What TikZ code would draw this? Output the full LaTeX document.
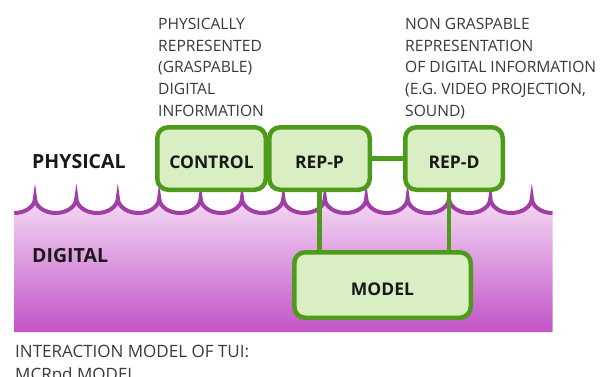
\documentclass[tikz,border=0pt]{standalone}
\usepackage{fontspec}
\setmainfont{Open Sans}
\definecolor{boxgreen}{RGB}{78,154,26}
\definecolor{boxfill}{RGB}{218,238,196}
\definecolor{wavepurple}{RGB}{160,62,165}
\definecolor{purtop}{RGB}{244,218,244}
\definecolor{purbot}{RGB}{194,84,200}
\definecolor{textgray}{RGB}{58,58,58}
\definecolor{textdark}{RGB}{25,25,25}
\tikzset{
  box/.style={draw=boxgreen, fill=boxfill, line width=4.5pt, rounded corners=11pt,
    inner sep=0pt, text height=20pt, text depth=0pt,
    font=\bfseries\fontsize{17.5}{17.5}\selectfont, text=textdark},
  conn/.style={draw=boxgreen, line width=4.5pt},
  note/.style={anchor=north west, inner sep=0pt, align=left, text=textgray,
    font=\fontsize{15.6}{21.7}\selectfont},
  zone/.style={anchor=base west, inner sep=0pt, text=textdark,
    font=\bfseries\fontsize{19.5}{19.5}\selectfont},
}
\newcommand{\wavepath}{(14.3,213) .. controls (25.73,213) and (35,206.28) .. (35,198)
  \foreach \k in {0,...,11}{
    .. controls ({35+\k*41.4},206.28) and ({35+\k*41.4+9.27},213) .. ({35+\k*41.4+20.7},213)
    .. controls ({35+\k*41.4+32.13},213) and ({35+\k*41.4+41.4},206.28) .. ({35+\k*41.4+41.4},198)
  }
  .. controls (531.8,206.28) and (541.07,213) .. (552.5,213)}
\begin{document}
\begin{tikzpicture}[x=1pt,y=-1pt]
\useasboundingbox (0,0) rectangle (607,377);
\fill[white] (0,0) rectangle (607,377);
% digital zone
\shade[top color=purtop, bottom color=purbot] \wavepath -- (552.5,332) -- (14.3,332) -- cycle;
\draw[wavepurple, line width=4pt] \wavepath;
% labels
\node[note] (leftnote) at (158,18) {PHYSICALLY\\REPRESENTED\\(GRASPABLE)\\DIGITAL\\INFORMATION};
\node[note] (rightnote) at (405,18) {NON GRASPABLE\\REPRESENTATION\\OF DIGITAL INFORMATION\\(E.G. VIDEO PROJECTION,\\SOUND)};
\node[zone] (physical) at (32,168) {PHYSICAL};
\node[zone] (digital) at (32,262) {DIGITAL};
\node[note, font=\fontsize{17}{23.3}\selectfont] (caption) at (15,345) {INTERACTION MODEL OF TUI:\\MCRpd MODEL};
% boxes
\node[box, minimum width=108.5pt, minimum height=62.5pt] (control) at (211.5,158.5) {CONTROL};
\node[box, minimum width=100.5pt, minimum height=62.5pt] (repp) at (319.5,158.5) {REP-P};
\node[box, minimum width=97.5pt, minimum height=62.5pt] (repd) at (454,158.5) {REP-D};
\node[box, minimum width=176.5pt, minimum height=65.5pt] (model) at (382.5,285) {MODEL};
% connectors
\draw[conn] (repp.east) -- (repd.west);
\draw[conn] (repp.south) -- (repp.south |- model.north);
\draw[conn] ([xshift=-5pt]repd.south) -- ([xshift=-5pt]repd.south |- model.north);
\end{tikzpicture}
\end{document}
